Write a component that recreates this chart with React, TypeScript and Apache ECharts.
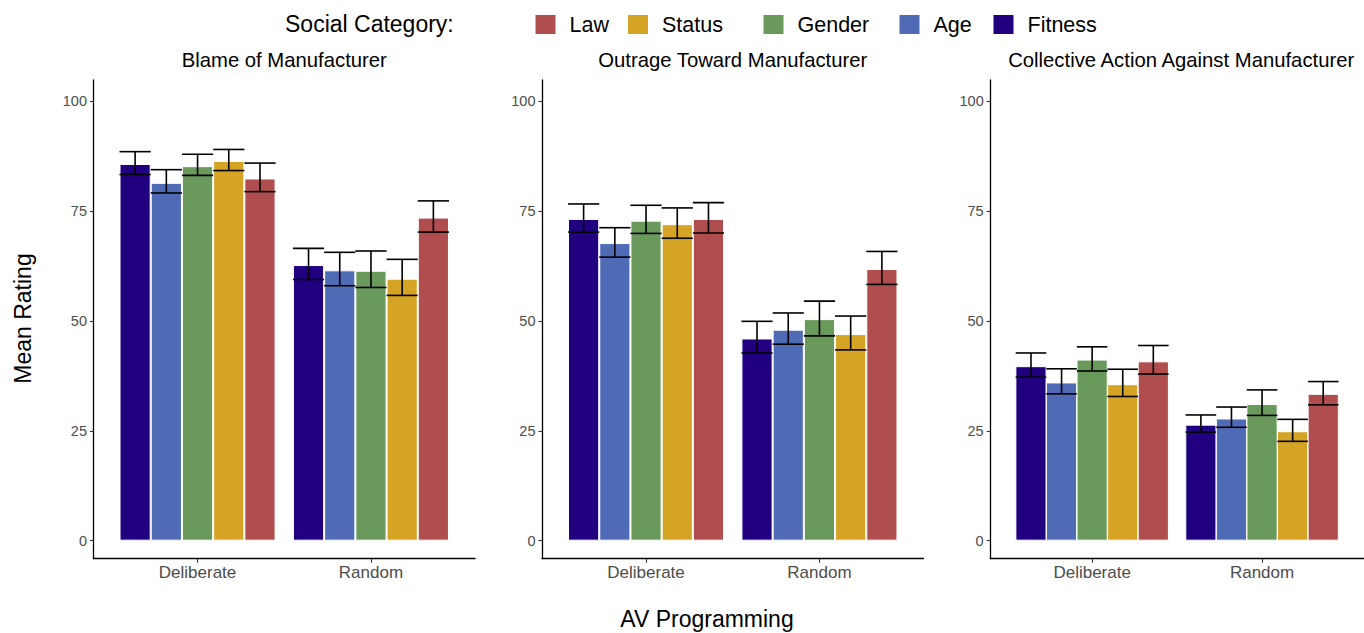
import React, { useEffect, useRef } from "react";
import * as echarts from "echarts";

const conditions = ["Deliberate", "Random"];
const categories = ["Fitness", "Age", "Gender", "Status", "Law"];
const legendOrder = ["Law", "Status", "Gender", "Age", "Fitness"];
const colors = ["#20007f", "#4f6bb6", "#6a995c", "#d5a425", "#b04e4f"];
const panelTitles = [
  "Blame of Manufacturer",
  "Outrage Toward Manufacturer",
  "Collective Action Against Manufacturer",
];
const yTicks = [0, 25, 50, 75, 100];

// mean per category (Fitness, Age, Gender, Status, Law) x [Deliberate, Random]
const blameMean = [[85.7, 62.7], [81.4, 61.5], [85.2, 61.4], [86.4, 59.6], [82.4, 73.5]];
const blameLow = [[83.3, 59.4], [79.1, 58.0], [83.1, 57.6], [84.2, 55.8], [79.4, 70.2]];
const blameHigh = [[88.5, 66.5], [84.4, 65.6], [87.9, 65.9], [89.0, 64.0], [85.9, 77.3]];

const outrageMean = [[73.2, 46.0], [67.7, 48.0], [72.8, 50.4], [72.0, 47.0], [73.2, 61.8]];
const outrageLow = [[70.2, 42.7], [64.5, 44.7], [69.9, 46.6], [68.8, 43.4], [70.0, 58.3]];
const outrageHigh = [[76.6, 49.9], [71.2, 51.8], [76.3, 54.5], [75.7, 51.1], [76.9, 65.8]];

const actionMean = [[39.7, 26.4], [36.0, 27.8], [41.2, 31.1], [35.6, 24.9], [40.8, 33.4]];
const actionLow = [[37.2, 24.7], [33.4, 25.8], [38.6, 28.5], [32.8, 22.6], [37.9, 30.9]];
const actionHigh = [[42.7, 28.6], [39.1, 30.4], [44.1, 34.3], [39.0, 27.6], [44.4, 36.2]];

const panelMeans = [blameMean, outrageMean, actionMean];
const panelLows = [blameLow, outrageLow, actionLow];
const panelHighs = [blameHigh, outrageHigh, actionHigh];

const DODGE = 0.18;
const FONT = "'Liberation Sans', Arial, Helvetica, sans-serif";

export default function App() {
  const ref = useRef<HTMLDivElement>(null);

  useEffect(() => {
    document.body.style.margin = "0";
    if (!ref.current) return;
    const chart = echarts.init(ref.current, null, { renderer: "svg" });

    const gridLefts = [93.5, 542, 990.2];
    const gridWidths = [381.5, 381.5, 382];
    const grids = gridLefts.map((l, i) => ({
      left: l,
      width: gridWidths[i],
      top: 80,
      height: 478.7,
      containLabel: false,
    }));

    const xAxes = grids.map((_, i) => ({
      type: "value",
      gridIndex: i,
      min: 0.4,
      max: 2.6,
      axisLine: { show: true, onZero: false, lineStyle: { color: "#000", width: 1.3 } },
      axisTick: { show: true, customValues: [1, 2], length: 4, lineStyle: { color: "#333", width: 1.1 } },
      axisLabel: {
        customValues: [1, 2],
        formatter: (v: number) => conditions[Math.round(v) - 1],
        fontSize: 17,
        color: "#4d4d4d",
        fontFamily: FONT,
        margin: 5,
      },
      splitLine: { show: false },
    }));

    const yAxes = grids.map((_, i) => ({
      type: "value",
      gridIndex: i,
      min: -4.1,
      max: 104.8,
      axisLine: { show: true, onZero: false, lineStyle: { color: "#000", width: 1.3 } },
      axisTick: { show: true, customValues: yTicks, length: 3.5, lineStyle: { color: "#333", width: 1.1 } },
      axisLabel: {
        customValues: yTicks,
        fontSize: 14.5,
        color: "#4d4d4d",
        fontFamily: FONT,
        margin: 6.5,
      },
      splitLine: { show: false },
    }));

    const series: any[] = [];
    panelMeans.forEach((means, p) => {
      categories.forEach((cat, i) => {
        series.push({
          type: "bar",
          name: cat,
          xAxisIndex: p,
          yAxisIndex: p,
          barWidth: 31.2,
          barGap: "-100%",
          itemStyle: { color: colors[i], borderColor: "#fff", borderWidth: 1 },
          data: conditions.map((_, j) => [j + 1 + (i - 2) * DODGE, means[i][j]]),
          z: 2,
        });
      });
      const errData: number[][] = [];
      categories.forEach((_, i) => {
        conditions.forEach((__, j) => {
          errData.push([j + 1 + (i - 2) * DODGE, panelLows[p][i][j], panelHighs[p][i][j]]);
        });
      });
      series.push({
        type: "custom",
        xAxisIndex: p,
        yAxisIndex: p,
        silent: true,
        z: 5,
        data: errData,
        renderItem: (_params: any, api: any) => {
          const x = api.value(0);
          const lo = api.value(1);
          const hi = api.value(2);
          const tl = api.coord([x - DODGE / 2, hi]);
          const tr = api.coord([x + DODGE / 2, hi]);
          const bl = api.coord([x - DODGE / 2, lo]);
          const br = api.coord([x + DODGE / 2, lo]);
          const mt = api.coord([x, hi]);
          const mb = api.coord([x, lo]);
          const style = { stroke: "#000", lineWidth: 1.6 };
          return {
            type: "group",
            children: [
              { type: "line", shape: { x1: tl[0], y1: tl[1], x2: tr[0], y2: tr[1] }, style },
              { type: "line", shape: { x1: mt[0], y1: mt[1], x2: mb[0], y2: mb[1] }, style },
              { type: "line", shape: { x1: bl[0], y1: bl[1], x2: br[0], y2: br[1] }, style },
            ],
          };
        },
      });
    });

    const legendLefts = [533.5, 626, 761.5, 897.5, 991.5];
    const legends = legendOrder.map((name, k) => ({
      data: [name],
      left: legendLefts[k],
      top: 13,
      padding: 0,
      itemWidth: 22,
      itemHeight: 21,
      icon: "rect",
      selectedMode: false,
      textStyle: { fontSize: 21.5, color: "#000", fontFamily: FONT, padding: [0, 0, 0, 8] },
    }));

    const graphics: any[] = [
      {
        type: "text",
        x: 285,
        y: 24,
        style: { text: "Social Category:", fontSize: 23, fill: "#000", fontFamily: FONT, textAlign: "left", textVerticalAlign: "middle" },
      },
      {
        type: "text",
        x: 707,
        y: 619,
        style: { text: "AV Programming", fontSize: 23, fill: "#000", fontFamily: FONT, textAlign: "center", textVerticalAlign: "middle" },
      },
      {
        type: "text",
        x: 23,
        y: 318.5,
        rotation: Math.PI / 2,
        style: { text: "Mean Rating", fontSize: 23, fill: "#000", fontFamily: FONT, textAlign: "center", textVerticalAlign: "middle" },
      },
    ];
    panelTitles.forEach((t, i) => {
      graphics.push({
        type: "text",
        x: gridLefts[i] + gridWidths[i] / 2,
        y: 60,
        style: { text: t, fontSize: 20.3, fill: "#000", fontFamily: FONT, textAlign: "center", textVerticalAlign: "middle" },
      });
    });

    chart.setOption({
      animation: false,
      backgroundColor: "#fff",
      textStyle: { fontFamily: FONT },
      grid: grids,
      xAxis: xAxes,
      yAxis: yAxes,
      legend: legends,
      series,
      graphic: graphics,
    });

    return () => chart.dispose();
  }, []);

  return <div ref={ref} style={{ width: 1364, height: 633 }} />;
}
